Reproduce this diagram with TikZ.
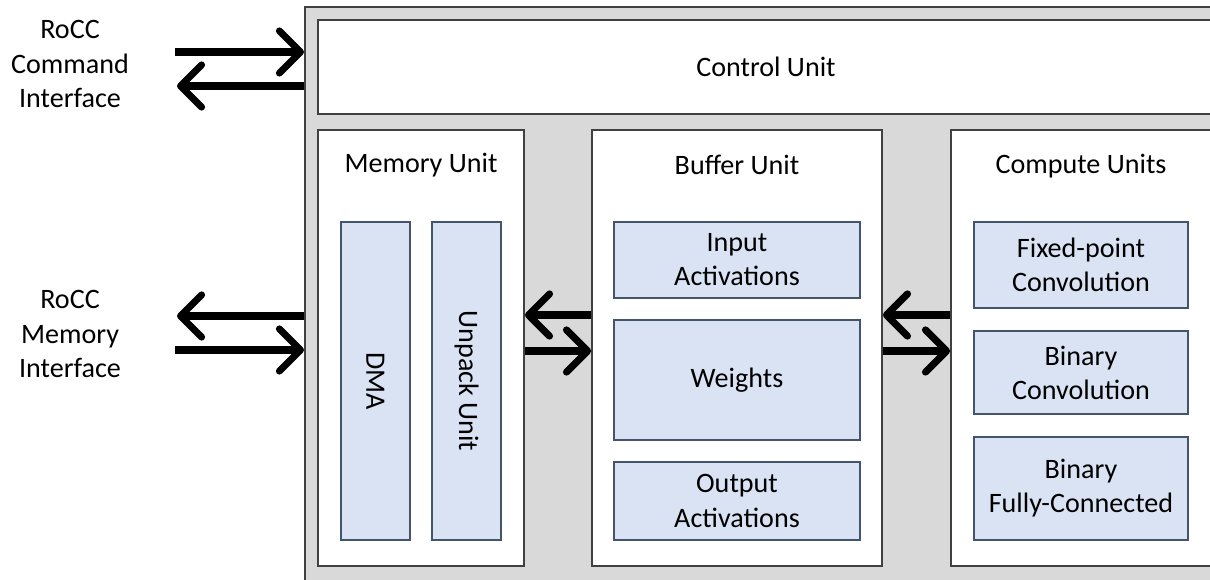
\documentclass[tikz,border=0pt]{standalone}
\usepackage{fontspec}
\setmainfont{Carlito}
\usetikzlibrary{arrows.meta,positioning}
\definecolor{unitgray}{HTML}{D9D9D9}
\definecolor{subfill}{HTML}{DAE3F3}
\definecolor{subline}{HTML}{44546A}
\definecolor{boxline}{HTML}{404040}

\begin{document}
\begin{tikzpicture}[x=0.02cm,y=-0.02cm,
  font=\fontsize{16}{19.4}\selectfont,
  unit/.style={draw=boxline,line width=1.1pt,fill=white,inner sep=0pt},
  sub/.style={draw=subline,line width=0.8pt,fill=subfill,align=center,inner sep=0pt},
  bus/.style={line width=4pt,-{Straight Barb[round,length=12pt,width=24pt]}}]
\useasboundingbox (0,0) rectangle (1210,580);
\clip (0,0) rectangle (1210,580);
\fill[white] (0,0) rectangle (1210,580);

\node[unit,fill=unitgray,anchor=north west,minimum width=18.6cm,minimum height=12cm] (acc) at (304,6) {};
\node[unit,minimum width=17.92cm,minimum height=1.88cm] (ctrl) at (766,67) {Control Unit};

\node[unit,minimum width=4.12cm,minimum height=8.72cm] (mem) at (421,348) {};
\node[unit,minimum width=5.8cm,minimum height=8.72cm] (buf) at (737,348) {};
\node[unit,minimum width=5.26cm,minimum height=8.72cm] (comp) at (1082.5,348) {};
\node (memtitle) at (421,165) {Memory Unit};
\node (buftitle) at (737,165) {Buffer Unit};
\node (comptitle) at (1081,166) {Compute Units};

\node[sub,rotate=-90,minimum width=6.36cm,minimum height=1.38cm] (dma) at (375.5,381) {DMA};
\node[sub,rotate=-90,minimum width=6.36cm,minimum height=1.38cm] (unpack) at (466.5,381) {Unpack Unit};

\node[sub,minimum width=4.92cm,minimum height=1.52cm] (inact) at (737,260) {Input\\Activations};
\node[sub,minimum width=4.92cm,minimum height=2.4cm] (weights) at (737,380) {Weights};
\node[sub,minimum width=4.92cm,minimum height=1.56cm] (outact) at (737,501) {Output\\Activations};

\node[sub,minimum width=4.28cm,minimum height=1.72cm] (fixconv) at (1081,265) {Fixed-point\\Convolution};
\node[sub,minimum width=4.28cm,minimum height=1.66cm] (binconv) at (1081,372.5) {Binary\\Convolution};
\node[sub,minimum width=4.28cm,minimum height=2.06cm] (binfc) at (1081,488.5) {Binary\\Fully-Connected};

\node[align=center] (cmdif) at (70,64) {RoCC\\Command\\Interface};
\node[align=center] (memif) at (70,334) {RoCC\\Memory\\Interface};

\coordinate (cmdin) at (175,52);
\coordinate (cmdout) at (177,86);
\coordinate (memout) at (177,316);
\coordinate (memin) at (175,350);
\draw[bus] (cmdin) -- (cmdin -| acc.west);
\draw[bus] (cmdout -| acc.west) -- (cmdout);
\draw[bus] (memout -| acc.west) -- (memout);
\draw[bus] (memin) -- (memin -| acc.west);

\draw[bus] ([yshift=0.66cm]buf.west) -- ([yshift=0.66cm]mem.east);
\draw[bus] ([yshift=-0.06cm]mem.east) -- ([yshift=-0.06cm]buf.west);
\draw[bus] ([yshift=0.66cm]comp.west) -- ([yshift=0.66cm]buf.east);
\draw[bus] ([yshift=-0.06cm]buf.east) -- ([yshift=-0.06cm]comp.west);
\end{tikzpicture}
\end{document}
